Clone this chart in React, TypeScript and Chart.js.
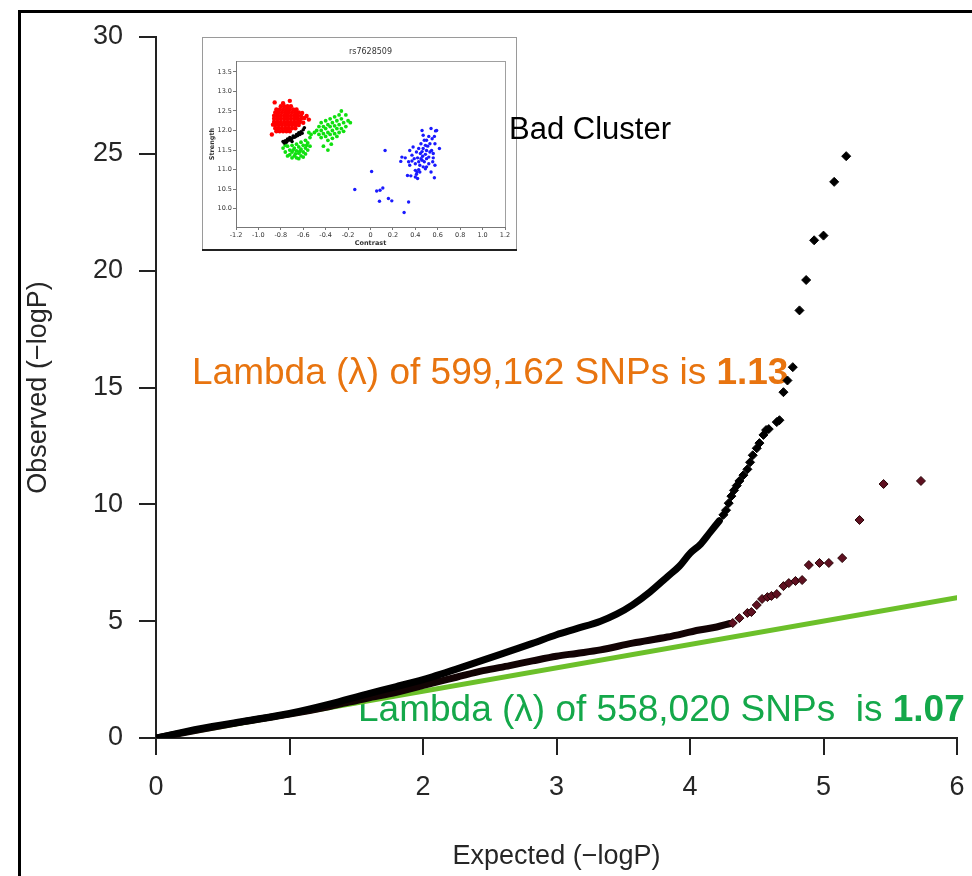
import React, { useEffect, useRef } from 'react';
import { Chart, registerables } from 'chart.js';

Chart.register(...registerables);

const FONT = "'Liberation Sans', Arial, Helvetica, sans-serif";
const SMALL_FONT = "'DejaVu Sans', Verdana, sans-serif";

// ---------- main QQ plot data ----------
const xTickValues = [0, 1, 2, 3, 4, 5, 6];
const yTickValues = [0, 5, 10, 15, 20, 25, 30];

// all SNPs (lambda 1.13) – dense body of the curve
const allBodyExpected = [0, 0.33, 0.66, 1.0, 1.3, 1.58, 1.8, 2.07, 2.25, 2.45, 2.65, 2.82, 3.0, 3.15, 3.33, 3.45, 3.57, 3.7, 3.83, 3.92, 4.0, 4.08, 4.15, 4.22];
const allBodyObserved = [0, 0.4, 0.72, 1.05, 1.45, 1.88, 2.2, 2.62, 2.95, 3.33, 3.72, 4.05, 4.42, 4.68, 5.0, 5.3, 5.7, 6.25, 6.9, 7.35, 7.9, 8.3, 8.8, 9.3];
// all SNPs – individual tail points
const allTailExpected = [4.25, 4.27, 4.29, 4.31, 4.33, 4.35, 4.37, 4.4, 4.43, 4.45, 4.47, 4.5, 4.52, 4.55, 4.57, 4.59, 4.65, 4.67, 4.7, 4.73, 4.77, 4.82, 4.87, 4.93, 5.0, 5.08, 5.17];
const allTailObserved = [9.55, 9.75, 10.05, 10.35, 10.6, 10.8, 11.0, 11.25, 11.5, 11.8, 12.1, 12.4, 12.62, 12.97, 13.18, 13.22, 13.52, 13.6, 14.8, 15.3, 15.87, 18.3, 19.6, 21.3, 21.5, 23.8, 24.9];

// cleaned SNPs (lambda 1.07)
const cleanBodyExpected = [0, 0.33, 0.66, 1.0, 1.3, 1.58, 1.8, 2.07, 2.25, 2.45, 2.65, 2.82, 3.0, 3.15, 3.33, 3.57, 3.83, 4.07, 4.2, 4.3];
const cleanBodyObserved = [0, 0.36, 0.7, 1.02, 1.35, 1.7, 1.95, 2.35, 2.6, 2.88, 3.1, 3.3, 3.5, 3.62, 3.77, 4.06, 4.32, 4.62, 4.75, 4.9];
const cleanTailExpected = [4.32, 4.37, 4.43, 4.46, 4.5, 4.54, 4.58, 4.61, 4.65, 4.7, 4.74, 4.79, 4.84, 4.89, 4.97, 5.04, 5.14, 5.27, 5.45, 5.73];
const cleanTailObserved = [4.92, 5.13, 5.35, 5.39, 5.69, 5.95, 6.03, 6.08, 6.16, 6.5, 6.63, 6.72, 6.76, 7.4, 7.49, 7.49, 7.7, 9.33, 10.87, 11.0];

// expected line y = x
const nullLineX = [0, 6];
const nullLineY = [0, 6];

const xTitle = 'Expected (\u2212logP)';
const yTitle = 'Observed (\u2212logP)';
const lambdaAll = ['Lambda (\u03bb) of 599,162 SNPs is ', '1.13'];
const lambdaClean = ['Lambda (\u03bb) of 558,020 SNPs  is ', '1.07'];
const badClusterLabel = 'Bad Cluster';

// ---------- inset cluster plot data ----------
const insetTitle = 'rs7628509';
const insetXTicks = [-1.2, -1.0, -0.8, -0.6, -0.4, -0.2, 0, 0.2, 0.4, 0.6, 0.8, 1.0, 1.2];
const insetYTicks = [10.0, 10.5, 11.0, 11.5, 12.0, 12.5, 13.0, 13.5];

const redCluster = [
  [-0.8, 12.62], [-0.77, 12.62], [-0.74, 12.62], [-0.71, 12.62],
  [-0.84, 12.54], [-0.81, 12.54], [-0.78, 12.54], [-0.75, 12.54], [-0.72, 12.54], [-0.69, 12.54], [-0.66, 12.54],
  [-0.85, 12.46], [-0.82, 12.46], [-0.79, 12.46], [-0.76, 12.46], [-0.73, 12.46], [-0.7, 12.46], [-0.67, 12.46], [-0.64, 12.46],
  [-0.86, 12.38], [-0.83, 12.38], [-0.8, 12.38], [-0.77, 12.38], [-0.74, 12.38], [-0.71, 12.38], [-0.68, 12.38], [-0.65, 12.38], [-0.62, 12.38],
  [-0.86, 12.3], [-0.83, 12.3], [-0.8, 12.3], [-0.77, 12.3], [-0.74, 12.3], [-0.71, 12.3], [-0.68, 12.3], [-0.65, 12.3], [-0.62, 12.3],
  [-0.86, 12.22], [-0.83, 12.22], [-0.8, 12.22], [-0.77, 12.22], [-0.74, 12.22], [-0.71, 12.22], [-0.68, 12.22], [-0.65, 12.22], [-0.63, 12.22],
  [-0.85, 12.14], [-0.82, 12.14], [-0.79, 12.14], [-0.76, 12.14], [-0.73, 12.14], [-0.7, 12.14], [-0.67, 12.14], [-0.64, 12.14],
  [-0.85, 12.06], [-0.82, 12.06], [-0.79, 12.06], [-0.76, 12.06], [-0.73, 12.06], [-0.7, 12.06], [-0.67, 12.06],
  [-0.84, 11.98], [-0.81, 11.98], [-0.78, 11.98], [-0.75, 11.98], [-0.72, 11.98],
  [-0.855, 12.72], [-0.72, 12.76], [-0.78, 12.7], [-0.88, 11.9], [-0.59, 12.32], [-0.57, 12.37], [-0.55, 12.28], [-0.61, 12.45], [-0.87, 12.15], [-0.6, 12.2],
];

const blackCluster = [
  [-0.78, 11.72], [-0.76, 11.74], [-0.74, 11.78], [-0.73, 11.75], [-0.72, 11.82], [-0.7, 11.8], [-0.69, 11.86], [-0.68, 11.83],
  [-0.66, 11.9], [-0.65, 11.87], [-0.64, 11.94], [-0.62, 11.97], [-0.61, 11.93], [-0.6, 12.02], [-0.59, 12.07], [-0.75, 11.7],
  [-0.71, 11.76], [-0.67, 11.84], [-0.63, 11.9], [-0.77, 11.68], [-0.7, 11.72],
];

const greenClusterA = [
  [-0.78, 11.55], [-0.76, 11.45], [-0.74, 11.6], [-0.72, 11.5], [-0.72, 11.38], [-0.7, 11.62], [-0.7, 11.45], [-0.68, 11.55],
  [-0.68, 11.35], [-0.66, 11.65], [-0.66, 11.48], [-0.66, 11.3], [-0.64, 11.58], [-0.64, 11.42], [-0.62, 11.7], [-0.62, 11.52],
  [-0.62, 11.35], [-0.6, 11.62], [-0.6, 11.45], [-0.58, 11.75], [-0.58, 11.55], [-0.58, 11.4], [-0.56, 11.68], [-0.56, 11.5],
  [-0.54, 11.82], [-0.54, 11.6], [-0.53, 11.9], [-0.55, 11.95], [-0.74, 11.35], [-0.7, 11.3], [-0.64, 11.28], [-0.76, 11.62],
  [-0.6, 11.32], [-0.67, 11.4], [-0.63, 11.47], [-0.69, 11.5], [-0.57, 11.62],
];

const greenClusterB = [
  [-0.48, 12.0], [-0.46, 12.1], [-0.46, 11.9], [-0.44, 12.2], [-0.44, 12.0], [-0.44, 11.82], [-0.42, 12.1], [-0.42, 11.92],
  [-0.4, 12.25], [-0.4, 12.05], [-0.4, 11.85], [-0.38, 12.15], [-0.38, 11.95], [-0.38, 11.75], [-0.36, 12.3], [-0.36, 12.1],
  [-0.36, 11.9], [-0.34, 12.2], [-0.34, 12.0], [-0.34, 11.8], [-0.32, 12.35], [-0.32, 12.12], [-0.32, 11.92], [-0.3, 12.25],
  [-0.3, 12.05], [-0.3, 11.85], [-0.28, 12.4], [-0.28, 12.15], [-0.28, 11.95], [-0.26, 12.3], [-0.26, 12.05], [-0.24, 12.2],
  [-0.24, 11.98], [-0.22, 12.1], [-0.2, 12.25], [-0.18, 12.2], [-0.5, 11.95], [-0.42, 11.6], [-0.38, 11.5], [-0.26, 12.5],
  [-0.22, 12.4], [-0.35, 11.65],
];

const blueCluster = [
  [-0.14, 10.49], [0.01, 10.95], [0.055, 10.45], [0.085, 10.47], [0.11, 10.53], [0.08, 10.19], [0.16, 10.26], [0.19, 10.2],
  [0.13, 11.49], [0.3, 9.9], [0.34, 10.17],
  [0.27, 11.21], [0.28, 11.32], [0.31, 11.3], [0.34, 11.2], [0.35, 11.11], [0.33, 10.85], [0.36, 10.84], [0.39, 11.28],
  [0.4, 10.98], [0.41, 10.88], [0.43, 11.0], [0.415, 10.94], [0.38, 11.58], [0.41, 11.45], [0.43, 11.54], [0.45, 11.66],
  [0.46, 12.0], [0.47, 11.88], [0.48, 11.75], [0.49, 11.62], [0.445, 11.41], [0.465, 11.34], [0.49, 11.39], [0.5, 11.49],
  [0.46, 11.24], [0.48, 11.2], [0.5, 11.28], [0.52, 11.15], [0.53, 11.66], [0.54, 12.05], [0.55, 11.79], [0.57, 11.85],
  [0.58, 11.99], [0.59, 12.0], [0.575, 11.66], [0.545, 11.49], [0.56, 11.41], [0.555, 11.2], [0.575, 11.11], [0.615, 11.54],
  [0.57, 10.79], [0.54, 10.94], [0.5, 11.07], [0.47, 11.07], [0.44, 11.11], [0.49, 11.02], [0.4, 11.15], [0.37, 11.37],
  [0.35, 11.49], [0.43, 11.2], [0.52, 11.32], [0.53, 11.45], [0.47, 11.54], [0.5, 11.75], [0.52, 11.85], [0.44, 10.94],
  [0.4, 10.81], [0.42, 10.77], [0.37, 11.22], [0.46, 11.46], [0.51, 11.6], [0.56, 11.3], [0.45, 11.28], [0.42, 11.3],
];

const pairs = (xs: number[], ys: number[]) => xs.map((x, i) => ({ x, y: ys[i] }));
const fromPairs = (arr: number[][]) => arr.map(([x, y]) => ({ x, y }));

const zeroPadding = (s: any) => {
  s.paddingLeft = 0;
  s.paddingRight = 0;
  s.paddingTop = 0;
  s.paddingBottom = 0;
};

const annotationPlugin = {
  id: 'qqAnnotations',
  beforeDatasetsDraw(chart: any) {
    const ctx = chart.ctx;
    const drawMixed = (parts: string[], x: number, y: number, color: string) => {
      ctx.save();
      ctx.fillStyle = color;
      ctx.textBaseline = 'alphabetic';
      ctx.textAlign = 'left';
      ctx.font = `37px ${FONT}`;
      ctx.fillText(parts[0], x, y);
      const w = ctx.measureText(parts[0]).width;
      ctx.font = `bold 37px ${FONT}`;
      ctx.fillText(parts[1], x + w, y);
      ctx.restore();
    };
    drawMixed(lambdaAll, 192, 384, '#e8740f');
    drawMixed(lambdaClean, 358, 721, '#14a84a');
  },
};

const insetFramePlugin = {
  id: 'insetFrame',
  beforeDraw(chart: any) {
    const c = chart.ctx;
    const W = chart.width;
    const H = chart.height;
    c.save();
    c.fillStyle = '#ffffff';
    c.fillRect(0, 0, W, H);
    c.strokeStyle = '#9a9a9a';
    c.lineWidth = 1;
    c.strokeRect(0.5, 0.5, W - 1, H - 1);
    c.strokeStyle = '#222';
    c.lineWidth = 2;
    c.beginPath();
    c.moveTo(0, H - 1);
    c.lineTo(W, H - 1);
    c.stroke();
    const a = chart.chartArea;
    c.strokeStyle = '#a0a0a0';
    c.lineWidth = 1;
    c.strokeRect(Math.round(a.left) + 0.5, Math.round(a.top) + 0.5, Math.round(a.right - a.left), Math.round(a.bottom - a.top));
    c.fillStyle = '#333';
    c.font = `8px ${SMALL_FONT}`;
    c.textAlign = 'center';
    c.textBaseline = 'alphabetic';
    c.fillText(insetTitle, (a.left + a.right) / 2, 17);
    c.restore();
  },
};

function Inset() {
  const ref = useRef<HTMLCanvasElement>(null);
  useEffect(() => {
    if (!ref.current) return;
    const pt = (data: number[][], color: string, r: number) => ({
      data: fromPairs(data),
      backgroundColor: color,
      borderColor: color,
      borderWidth: 0,
      pointRadius: r,
      pointStyle: 'circle',
    });
    const chart = new Chart(ref.current, {
      type: 'scatter',
      data: {
        datasets: [
          pt(blackCluster, '#000000', 1.8),
          pt(redCluster, '#ff0000', 2.2),
          pt(greenClusterA, '#10e010', 1.9),
          pt(greenClusterB, '#10e010', 1.9),
          pt(blueCluster, '#1a1aff', 1.7),
        ] as any,
      },
      options: {
        animation: false,
        responsive: false,
        events: [],
        layout: { padding: { top: 24, right: 12, left: 0, bottom: 0 } },
        plugins: { legend: { display: false }, tooltip: { enabled: false } },
        scales: {
          x: {
            type: 'linear',
            min: -1.2,
            max: 1.2,
            afterBuildTicks: (s: any) => { s.ticks = insetXTicks.map((v) => ({ value: v })); },
            afterFit: (s: any) => { s.height = 24; zeroPadding(s); },
            grid: { drawOnChartArea: false, tickLength: 3, color: '#777', lineWidth: 1 },
            border: { color: '#777', width: 1 },
            ticks: {
              autoSkip: false,
              maxRotation: 0,
              padding: 1,
              color: '#333',
              font: { family: SMALL_FONT, size: 6.5 },
              callback: (v: any) => (Math.abs(Number(v)) < 1e-9 ? '0' : Number(v).toFixed(1)),
            },
            title: { display: true, text: 'Contrast', color: '#333', font: { family: SMALL_FONT, size: 6.5, weight: 'bold' }, padding: { top: 0, bottom: 4 } },
          },
          y: {
            type: 'linear',
            min: 9.53,
            max: 13.78,
            afterBuildTicks: (s: any) => { s.ticks = insetYTicks.map((v) => ({ value: v })); },
            afterFit: (s: any) => { s.width = 34; zeroPadding(s); },
            grid: { drawOnChartArea: false, tickLength: 3, color: '#777', lineWidth: 1 },
            border: { color: '#777', width: 1 },
            ticks: {
              autoSkip: false,
              padding: 1,
              color: '#333',
              font: { family: SMALL_FONT, size: 6.5 },
              callback: (v: any) => Number(v).toFixed(1),
            },
            title: { display: true, text: 'Strength', color: '#333', font: { family: SMALL_FONT, size: 6.5, weight: 'bold' }, padding: { top: 6, bottom: 0 } },
          },
        },
      } as any,
      plugins: [insetFramePlugin],
    });
    return () => chart.destroy();
  }, []);
  return (
    <canvas
      ref={ref}
      width={315}
      height={214}
      style={{ position: 'absolute', left: 202, top: 37, width: 315, height: 214 }}
    />
  );
}

export default function App() {
  const ref = useRef<HTMLCanvasElement>(null);
  useEffect(() => {
    if (!ref.current) return;
    const tickFont = { family: FONT, size: 27 };
    const chart = new Chart(ref.current, {
      type: 'scatter',
      data: {
        datasets: [
          {
            data: pairs(allTailExpected, allTailObserved),
            pointStyle: 'rectRot',
            pointRadius: 4.5,
            backgroundColor: '#000',
            borderColor: '#000',
            borderWidth: 1,
            showLine: false,
          },
          {
            data: pairs(allBodyExpected, allBodyObserved),
            showLine: true,
            borderColor: '#000',
            borderWidth: 7,
            pointRadius: 0,
            cubicInterpolationMode: 'monotone',
            borderCapStyle: 'round',
            borderJoinStyle: 'round',
          },
          {
            data: pairs(cleanTailExpected, cleanTailObserved),
            pointStyle: 'rectRot',
            pointRadius: 4.5,
            backgroundColor: '#5e1020',
            borderColor: '#2a0508',
            borderWidth: 1,
            showLine: false,
          },
          {
            data: pairs(cleanBodyExpected, cleanBodyObserved),
            showLine: true,
            borderColor: '#120304',
            borderWidth: 7,
            pointRadius: 0,
            cubicInterpolationMode: 'monotone',
            borderCapStyle: 'round',
            borderJoinStyle: 'round',
          },
          {
            data: pairs(nullLineX, nullLineY),
            showLine: true,
            borderColor: '#6cc02a',
            borderWidth: 5,
            pointRadius: 0,
            borderCapStyle: 'round',
          },
        ] as any,
      },
      options: {
        animation: false,
        responsive: false,
        events: [],
        layout: { padding: { top: 37, right: 15, left: 0, bottom: 0 } },
        plugins: { legend: { display: false }, tooltip: { enabled: false } },
        scales: {
          x: {
            type: 'linear',
            min: 0,
            max: 6,
            afterBuildTicks: (s: any) => { s.ticks = xTickValues.map((v) => ({ value: v })); },
            afterFit: (s: any) => { s.height = 138; zeroPadding(s); },
            grid: { drawOnChartArea: false, tickLength: 17, color: '#222', lineWidth: 2 },
            border: { color: '#222', width: 2 },
            ticks: { padding: 16, color: '#262626', font: tickFont, autoSkip: false, maxRotation: 0 },
            title: { display: true, text: xTitle, color: '#262626', font: tickFont, padding: { top: 0, bottom: 3 } },
          },
          y: {
            type: 'linear',
            min: 0,
            max: 30,
            afterBuildTicks: (s: any) => { s.ticks = yTickValues.map((v) => ({ value: v })); },
            afterFit: (s: any) => { s.width = 156; zeroPadding(s); },
            grid: { drawOnChartArea: false, tickLength: 17, color: '#222', lineWidth: 2 },
            border: { color: '#222', width: 2 },
            ticks: { padding: 16, color: '#262626', font: tickFont, autoSkip: false },
            title: { display: true, text: yTitle, color: '#262626', font: tickFont, padding: { top: 22, bottom: 0 } },
          },
        },
      } as any,
      plugins: [annotationPlugin],
    });
    return () => chart.destroy();
  }, []);

  return (
    <div style={{ position: 'fixed', left: 0, top: 0, width: 972, height: 876, background: '#fff', overflow: 'hidden' }}>
      <canvas ref={ref} width={972} height={876} style={{ position: 'absolute', left: 0, top: 0, width: 972, height: 876 }} />
      <Inset />
      <div
        style={{
          position: 'absolute',
          left: 509,
          top: 113,
          fontFamily: FONT,
          fontSize: 31,
          lineHeight: '31px',
          color: '#000',
          whiteSpace: 'nowrap',
        }}
      >
        {badClusterLabel}
      </div>
      <div
        style={{
          position: 'absolute',
          left: 18,
          top: 10,
          width: 954,
          height: 866,
          boxSizing: 'border-box',
          borderLeft: '3px solid #000',
          borderTop: '3px solid #000',
          pointerEvents: 'none',
        }}
      />
    </div>
  );
}
